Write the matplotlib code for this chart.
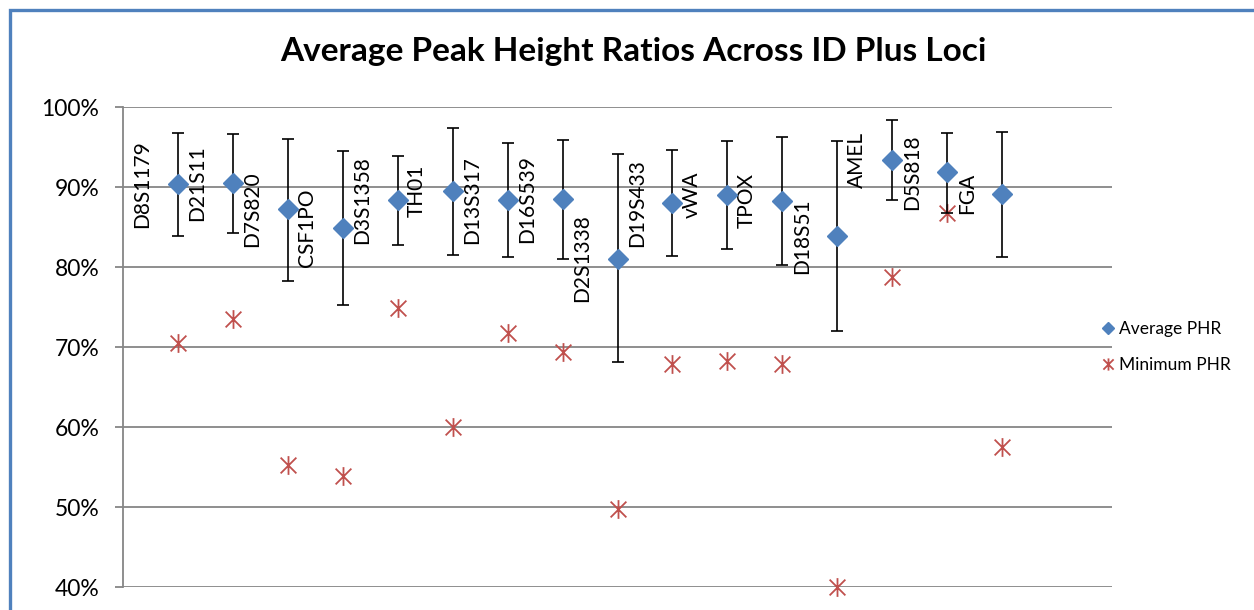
import numpy as np
import matplotlib
matplotlib.use("Agg")
import matplotlib.pyplot as plt
from matplotlib.path import Path
from matplotlib.patches import Rectangle
from matplotlib.ticker import FuncFormatter

plt.rcParams['font.family'] = ['Lato', 'DejaVu Sans']

# data
loci = ["D8S1179", "D21S11", "D7S820", "CSF1PO", "D3S1358", "TH01", "D13S317", "D16S539",
        "D2S1338", "D19S433", "vWA", "TPOX", "D18S51", "AMEL", "D5S818", "FGA"]
avg_phr = [90.35, 90.45, 87.2, 84.85, 88.4, 89.5, 88.4, 88.5,
           81.05, 88.05, 89.05, 88.3, 83.9, 93.4, 91.9, 89.15]
err_high = [96.7, 96.6, 96.0, 94.5, 93.9, 97.4, 95.5, 95.9,
            94.1, 94.6, 95.8, 96.3, 95.7, 98.4, 96.8, 96.9]
err_low = [83.9, 84.2, 78.3, 75.2, 82.8, 81.5, 81.2, 81.0,
           68.1, 81.4, 82.25, 80.25, 72.0, 88.4, 86.8, 81.3]
min_phr = [70.55, 73.45, 55.2, 53.9, 74.9, 59.95, 71.75, 69.35,
           49.7, 67.85, 68.25, 67.85, 40.0, 78.8, 86.8, 57.5]

avg = np.array(avg_phr) / 100
hi = np.array(err_high) / 100
lo = np.array(err_low) / 100
mn = np.array(min_phr) / 100
xs = np.arange(1, len(loci) + 1)

blue = "#4F81BD"
red = "#C0504D"
grey = "#868686"

# excel style asterisk: vertical bar plus an X
star = Path([(0, -0.5), (0, 0.5), (-0.42, -0.42), (0.42, 0.42), (-0.42, 0.42), (0.42, -0.42)],
            [Path.MOVETO, Path.LINETO, Path.MOVETO, Path.LINETO, Path.MOVETO, Path.LINETO])

fig = plt.figure(figsize=(12.54, 6.10), dpi=100)
ax = fig.add_axes([123/1254, 1 - 587/610, (1112 - 123)/1254, (587 - 107)/610])

ax.plot(xs, mn, linestyle="none", marker=star, markersize=13.5, markeredgecolor=red,
        markeredgewidth=1.3, color=red, label="Minimum PHR", zorder=3, clip_on=False)
ax.errorbar(xs, avg, yerr=[avg - lo, hi - avg], fmt="none", ecolor="black",
            elinewidth=1.2, capsize=4.5, capthick=1.2, zorder=4)
ax.plot(xs, avg, linestyle="none", marker="D", markersize=10, color=blue,
        label="Average PHR", zorder=5)

for x, y, name in zip(xs, avg, loci):
    ax.annotate(name, (x, y), xytext=(-25.5, 0), textcoords="offset points",
                rotation=90, ha="center", va="center", fontsize=15, color="black")

ax.set_xlim(0, 18)
ax.set_ylim(0.4, 1.0)
ax.set_yticks(np.arange(0.4, 1.01, 0.1))
ax.yaxis.set_major_formatter(FuncFormatter(lambda v, p: "%d%%" % round(v * 100)))
ax.set_xticks([])
ax.grid(axis="y", color=grey, linewidth=1.3)
ax.set_axisbelow(True)
for s in ["top", "right", "bottom"]:
    ax.spines[s].set_visible(False)
ax.spines["left"].set_color(grey)
ax.spines["left"].set_linewidth(1.3)
ax.tick_params(axis="y", length=6, width=1.3, color=grey, labelsize=16.5, pad=11)

handles, labels = ax.get_legend_handles_labels()
ax.legend(handles[::-1], labels[::-1], loc="center left", bbox_to_anchor=(1103/1254, 1 - 347/610),
          bbox_transform=fig.transFigure, frameon=False, fontsize=12.5, markerscale=0.65,
          handlelength=0.6, handletextpad=0.3, labelspacing=1.2, borderpad=0, borderaxespad=0)

fig.text(633/1254, 1 - 52/610, "Average Peak Height Ratios Across ID Plus Loci",
         ha="center", va="center", fontsize=24, fontweight="bold")

fig.patches.append(Rectangle((10/1254, -0.5), 2, 0.5 + 1 - 10/610, transform=fig.transFigure,
                             fill=False, edgecolor=blue, linewidth=2.4))

fig.savefig("out.png", dpi=100)
